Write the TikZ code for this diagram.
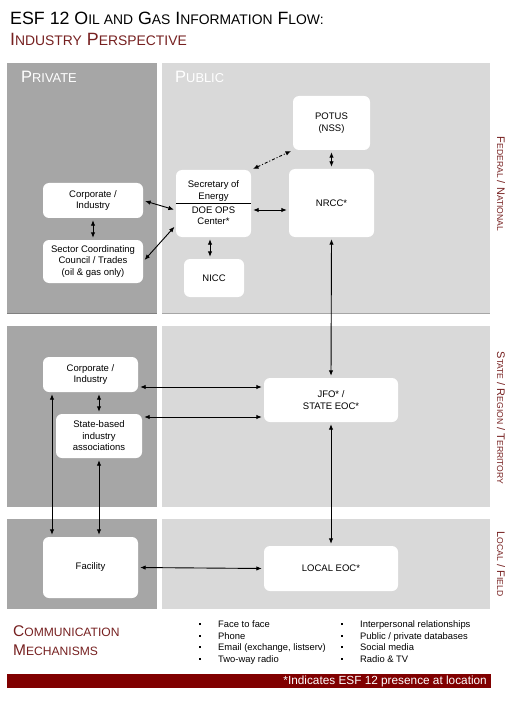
\documentclass[tikz,border=0pt]{standalone}
\usepackage{fontspec}
\setmainfont{Liberation Sans}
\usetikzlibrary{arrows.meta,positioning}

\definecolor{esfred}{RGB}{128,0,0}
\definecolor{labelred}{RGB}{118,32,32}
\definecolor{privgray}{RGB}{166,166,166}
\definecolor{pubgray}{RGB}{217,217,217}

% fake small caps
\newcommand{\smc}[1]{\scalebox{0.78}{#1}}

\begin{document}
\begin{tikzpicture}[x=1pt, y=-1pt,
    box/.style={fill=white, rounded corners=6pt, inner sep=1pt, align=center,
                font=\fontsize{9.5}{11.5}\selectfont},
    lbl/.style={inner sep=1pt, align=center, font=\fontsize{9.5}{11.5}\selectfont},
    link/.style={{Latex[length=5.5pt,width=4.5pt]}-{Latex[length=5.5pt,width=4.5pt]}, line width=0.9pt,
                 shorten <=2pt, shorten >=2pt},
    side/.style={rotate=-90, text=labelred, font=\fontsize{11}{13}\selectfont},
    bullet/.style={anchor=base west, inner sep=0pt, font=\fontsize{9.4}{11.5}\selectfont}]
    \useasboundingbox (0,0) rectangle (513,703);

    % title
    \node[anchor=base west, inner sep=0pt, font=\fontsize{17.8}{20}\selectfont] (title1) at (10,25)
        {ESF 12 O\smc{IL AND} G\smc{AS} I\smc{NFORMATION} F\smc{LOW:}};
    \node[anchor=base west, inner sep=0pt, text=labelred, font=\fontsize{17.8}{20}\selectfont] (title2) at (10,46)
        {I\smc{NDUSTRY} P\smc{ERSPECTIVE}};

    % panels
    \fill[privgray] (7,63) rectangle (157,313);
    \fill[pubgray] (162,63) rectangle (490,313);
    \fill[privgray] (7,326) rectangle (157,507);
    \fill[pubgray] (162,326) rectangle (490,507);
    \fill[privgray] (7,519) rectangle (157,609);
    \fill[pubgray] (162,519) rectangle (490,609);
    \draw[gray, line width=0.6pt] (7,313) -- (157,313);
    \draw[gray!70, line width=0.6pt] (162,313) -- (490,313);

    \node[anchor=base west, inner sep=0pt, text=white, font=\fontsize{16.5}{18}\selectfont] (private) at (21,83)
        {P\smc{RIVATE}};
    \node[anchor=base west, inner sep=0pt, text=white, font=\fontsize{16.5}{18}\selectfont] (public) at (175,83)
        {P\smc{UBLIC}};

    % side labels
    \node[side] (federal) at (501,184) {F\smc{EDERAL} / N\smc{ATIONAL}};
    \node[side] (state) at (501,418) {S\smc{TATE} / R\smc{EGION} / T\smc{ERRITORY}};
    \node[side] (local) at (501,564) {L\smc{OCAL} / F\smc{IELD}};

    % federal level
    \node[box, minimum width=77pt, minimum height=54pt] (potus) at (331.5,123) {POTUS\\(NSS)};
    \node[box, minimum width=85pt, minimum height=68pt] (nrcc) at (331.5,203) {NRCC*};
    \node[box, minimum width=75pt, minimum height=67pt] (sec) at (213.5,203.5) {};
    \draw[line width=0.9pt] (sec.west) -- (sec.east);
    \node[lbl, above=1pt] (secA) at (sec.center) {Secretary of\\Energy};
    \node[lbl, below=2pt] (secB) at (sec.center) {DOE OPS\\Center*};
    \node[box, minimum width=60pt, minimum height=38pt] (nicc) at (214,278) {NICC};
    \node[box, minimum width=100pt, minimum height=35pt] (corpF) at (93,200.5) {Corporate /\\Industry};
    \node[box, minimum width=100pt, minimum height=43pt] (sector) at (93,261.5)
        {Sector Coordinating\\Council / Trades\\(oil \& gas only)};

    % state level
    \node[box, minimum width=95pt, minimum height=35pt] (corpS) at (90.5,374.5) {Corporate /\\Industry};
    \node[box, minimum width=86pt, minimum height=44pt] (assoc) at (99,436) {State-based\\industry\\associations};
    \node[box, minimum width=134pt, minimum height=44pt] (jfo) at (331,400) {JFO* /\\STATE EOC*};

    % local level
    \node[box, minimum width=95pt, minimum height=61pt] (fac) at (90.5,567.5) {Facility};
    \node[box, minimum width=134pt, minimum height=45pt] (loc) at (331,568.5) {LOCAL EOC*};

    % connectors
    \draw[link, dash pattern=on 3pt off 2pt on 1pt off 2pt] (sec.north east) -- (potus.south west);
    \draw[link] (potus.south) -- (nrcc.north);
    \draw[link] ([yshift=-6.5pt]sec.east) -- ([yshift=-6.5pt]sec.east -| nrcc.west);
    \draw[link] ([xshift=-3.5pt]sec.south) -- ([xshift=-3.5pt]sec.south |- nicc.north);
    \draw[link] (corpF.east) -- (sec.190);
    \draw[link] (sector.east) -- (sec.210);
    \draw[link] (corpF.south) -- (sector.north);
    \draw[link] (nrcc.south) -- (jfo.north);
    \draw[link] (corpS.east |- 0,387) -- (jfo.west |- 0,387);
    \draw[link] (assoc.east |- 0,417) -- (jfo.west |- 0,417);
    \draw[link] (assoc.north) -- (assoc.north |- corpS.south);
    \draw[link] (52,0 |- corpS.south) -- (52,0 |- fac.north);
    \draw[link] (assoc.south) -- (assoc.south |- fac.north);
    \draw[link] (jfo.south) -- (loc.north);
    \draw[link] (fac.east) -- (loc.west);

    % communication mechanisms
    \node[anchor=base west, inner sep=0pt, text=labelred, font=\fontsize{15.5}{17}\selectfont] (comm1) at (13,636)
        {C\smc{OMMUNICATION}};
    \node[anchor=base west, inner sep=0pt, text=labelred, font=\fontsize{15.5}{17}\selectfont] (comm2) at (13,655)
        {M\smc{ECHANISMS}};

    \foreach \txt [count=\i] in {Face to face, Phone, {Email (exchange, listserv)}, Two-way radio} {
        \node[bullet] (dotA\i) at (199,627.5+11.5*\i-11.5) {\raisebox{2.5pt}{\rule{1.6pt}{1.6pt}}};
        \node[bullet] (itemA\i) at (218,627.5+11.5*\i-11.5) {\txt};
    }
    \foreach \txt [count=\i] in {Interpersonal relationships, Public / private databases, Social media, Radio \& TV} {
        \node[bullet] (dotB\i) at (341,627.5+11.5*\i-11.5) {\raisebox{2.5pt}{\rule{1.6pt}{1.6pt}}};
        \node[bullet] (itemB\i) at (360,627.5+11.5*\i-11.5) {\txt};
    }

    % footer
    \fill[esfred] (7,674) rectangle (491,688);
    \node[anchor=east, inner sep=0pt, text=white, font=\fontsize{11.8}{13}\selectfont] (note) at (487,681.5)
        {*Indicates ESF 12 presence at location};
\end{tikzpicture}
\end{document}
